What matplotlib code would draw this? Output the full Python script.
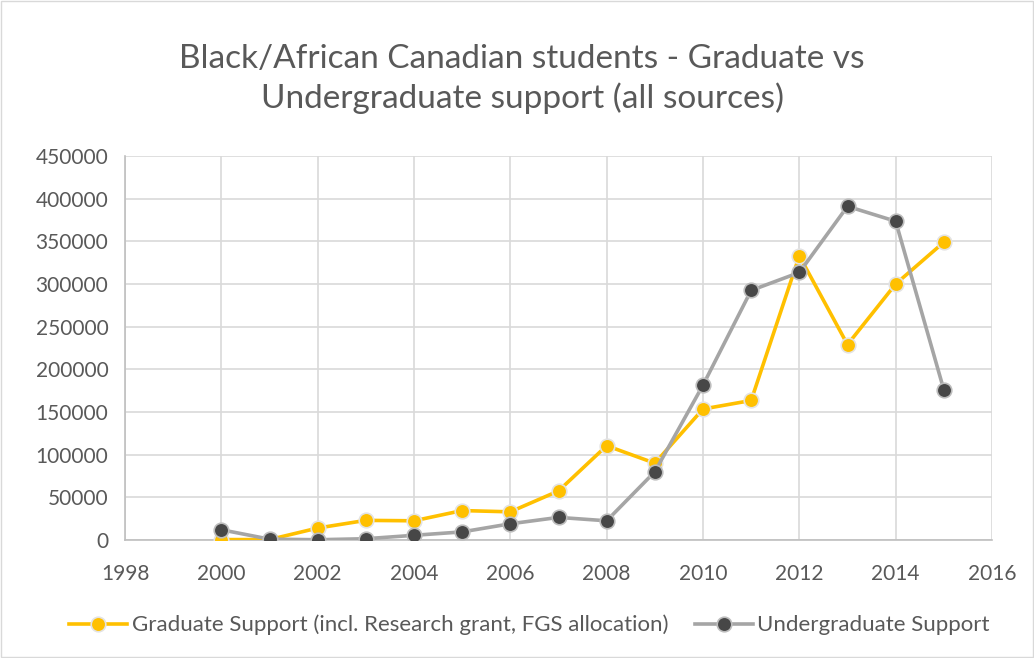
import matplotlib.pyplot as plt
from matplotlib.patches import Rectangle

years = [2000, 2001, 2002, 2003, 2004, 2005, 2006, 2007,
         2008, 2009, 2010, 2011, 2012, 2013, 2014, 2015]
graduate = [500, 500, 14000, 23000, 22500, 34500, 33000, 57500,
            110500, 90000, 153500, 163500, 333000, 229000, 300000, 349000]
undergrad = [12000, 1000, 300, 1500, 5500, 9500, 19000, 26500,
             22500, 80000, 181500, 292500, 313500, 391000, 373500, 176000]

title = "Black/African Canadian students - Graduate vs\nUndergraduate support (all sources)"
grad_label = "Graduate Support (incl. Research grant, FGS allocation)"
ug_label = "Undergraduate Support"

plt.rcParams['font.family'] = ['Lato', 'DejaVu Sans']
txt = '#595959'

fig = plt.figure(figsize=(10.34, 6.58), dpi=100)
ax = fig.add_axes([125 / 1034, 1 - 540 / 658, (992 - 125) / 1034, (540 - 156) / 658])

ax.plot(years, graduate, color='#FFC000', lw=2.6, marker='o', ms=10.5,
        mfc='#FFC000', mec='#e3e3e3', mew=1.2, label=grad_label, zorder=3)
ax.plot(years, undergrad, color='#A5A5A5', lw=2.6, marker='o', ms=10.5,
        mfc='#474747', mec='#bdbdbd', mew=1.2, label=ug_label, zorder=4)

ax.set_xlim(1998, 2016)
ax.set_ylim(0, 450000)
ax.set_xticks(range(1998, 2017, 2))
ax.set_yticks(range(0, 450001, 50000))
ax.grid(True, color='#d9d9d9', lw=1.2)
ax.set_axisbelow(True)
for s in ['top', 'right']:
    ax.spines[s].set_visible(False)
for s in ['left', 'bottom']:
    ax.spines[s].set_color('#bfbfbf')
    ax.spines[s].set_linewidth(1.2)
ax.tick_params(length=0, labelsize=15, colors=txt)
ax.tick_params(axis='x', pad=17)
ax.tick_params(axis='y', pad=12)

fig.text(0.505, 1 - 79 / 658, title, ha='center', va='center', fontsize=24,
         color=txt, linespacing=1.32)

fig.legend(loc='center', bbox_to_anchor=(0.512, 1 - 625 / 658), ncol=2, frameon=False,
           fontsize=16, labelcolor=txt, handlelength=2.6, handletextpad=0.2,
           columnspacing=1.2)

fig.add_artist(Rectangle((0.001, 0.001), 0.998, 0.998, transform=fig.transFigure,
                         fill=False, ec='#d9d9d9', lw=1))

fig.savefig('out.png', dpi=100)
